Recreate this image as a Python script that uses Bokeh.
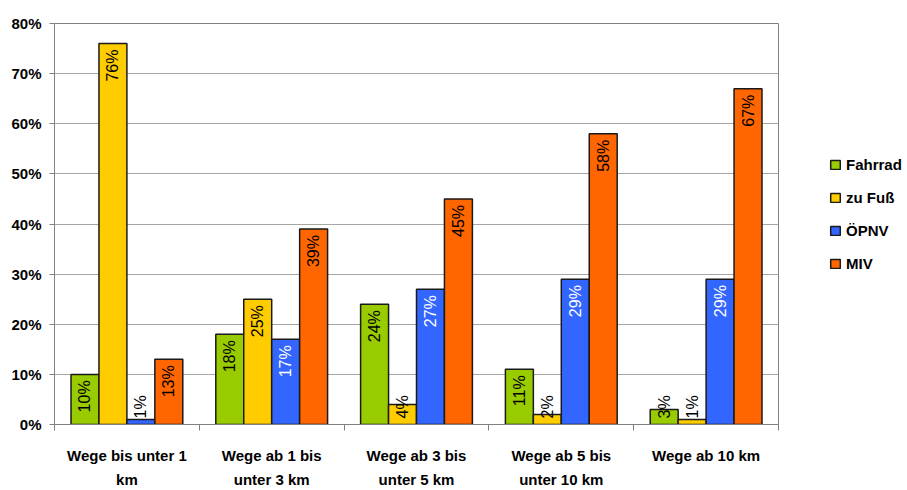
import numpy as np
from bokeh.plotting import figure
from bokeh.layouts import row
from bokeh.models import (ColumnDataSource, FixedTicker, PrintfTickFormatter, Range1d,
                          Legend, LegendItem, LinearAxis)
from bokeh.core.properties import value
from bokeh.embed import file_html
from bokeh.resources import INLINE

categories_line1 = ["Wege bis unter 1", "Wege ab 1 bis", "Wege ab 3 bis", "Wege ab 5 bis", "Wege ab 10 km"]
categories_line2 = ["km", "unter 3 km", "unter 5 km", "unter 10 km", ""]
series = ["Fahrrad", "zu Fuß", "ÖPNV", "MIV"]
fahrrad = [10, 18, 24, 11, 3]
zu_fuss = [76, 25, 4, 2, 1]
oepnv = [1, 17, 27, 29, 29]
miv = [13, 39, 45, 58, 67]
y_ticks = [0, 10, 20, 30, 40, 50, 60, 70, 80]

colors = ["#99CC00", "#FFCC00", "#3366FF", "#FF6600"]
label_colors = ["black", "black", "white", "black"]
values = [fahrrad, zu_fuss, oepnv, miv]

FONT = "Liberation Sans"
H = 490
W1, W2 = 790, 117

n = len(categories_line1)
p = figure(width=W1, height=H, output_backend="svg", toolbar_location=None,
           x_range=Range1d(0, n), y_range=Range1d(0, 80),
           min_border_left=54, min_border_right=12, min_border_top=23, min_border_bottom=0)
p.background_fill_color = "white"
p.border_fill_color = "white"
p.outline_line_color = "#808080"
p.outline_line_width = 1

centers = np.arange(n) + 0.5
bw = 0.193
offsets = [-1.5 * bw, -0.5 * bw, 0.5 * bw, 1.5 * bw]

in_x, in_y, in_t, in_c = [], [], [], []
out_x, out_t = [], []
for k, (name, vals) in enumerate(zip(series, values)):
    xs = centers + offsets[k]
    src = ColumnDataSource(dict(x=xs, top=vals))
    p.vbar(x="x", top="top", width=bw, source=src, fill_color=colors[k],
           line_color="#1a1a1a", line_width=1.5)
    for xx, v in zip(xs, vals):
        if v >= 8:
            in_x.append(xx); in_y.append(v); in_t.append(f"{v}%"); in_c.append(label_colors[k])
        else:
            out_x.append(xx); out_t.append(f"{v}%")

p.text(x="x", y="y", text="t", text_color="c",
       source=ColumnDataSource(dict(x=in_x, y=in_y, t=in_t, c=in_c)),
       angle=np.pi / 2, text_align="right", text_baseline="middle", y_offset=6,
       text_font=value(FONT), text_font_size="16px")
p.text(x="x", y=0, text="t", source=ColumnDataSource(dict(x=out_x, t=out_t)),
       angle=np.pi / 2, text_align="left", text_baseline="middle", y_offset=-6,
       text_color="black", text_font=value(FONT), text_font_size="16px")

# y axis
p.yaxis.ticker = FixedTicker(ticks=y_ticks)
p.yaxis.formatter = PrintfTickFormatter(format="%d%%")
p.yaxis.axis_line_color = "#808080"
p.yaxis.major_tick_line_color = "#808080"
p.yaxis.major_tick_out = 5
p.yaxis.major_tick_in = 0
p.yaxis.minor_tick_line_color = None
p.yaxis.major_label_text_font = FONT
p.yaxis.major_label_text_font_style = "bold"
p.yaxis.major_label_text_font_size = "15px"
p.yaxis.major_label_text_color = "black"
p.yaxis.major_label_standoff = 8


def style_x(ax):
    ax.major_label_text_font = FONT
    ax.major_label_text_font_style = "bold"
    ax.major_label_text_font_size = "15px"
    ax.major_label_text_color = "black"


# x axis (first label line + group separator ticks)
p.xaxis.ticker = FixedTicker(ticks=list(centers), minor_ticks=list(range(n + 1)))
p.xaxis.major_label_overrides = {float(c): lab for c, lab in zip(centers, categories_line1)}
p.xaxis.axis_line_color = "#808080"
p.xaxis.major_tick_line_color = None
p.xaxis.major_tick_out = 0
p.xaxis.major_tick_in = 0
p.xaxis.minor_tick_line_color = "#808080"
p.xaxis.minor_tick_out = 6
p.xaxis.minor_tick_in = 0
p.xaxis.major_label_standoff = 16
style_x(p.xaxis[0])

# second label line
ax2 = LinearAxis(ticker=FixedTicker(ticks=list(centers), minor_ticks=[]))
ax2.major_label_overrides = {float(c): lab for c, lab in zip(centers, categories_line2)}
ax2.axis_line_color = None
ax2.major_tick_line_color = None
ax2.minor_tick_line_color = None
ax2.major_tick_out = 0
ax2.major_tick_in = 0
ax2.major_label_standoff = 4
style_x(ax2)
p.add_layout(ax2, "below")

p.xgrid.grid_line_color = None
p.ygrid.ticker = FixedTicker(ticks=y_ticks)
p.ygrid.grid_line_color = "#a6a6a6"
p.ygrid.grid_line_width = 1

# legend panel
p2 = figure(width=W2, height=H, output_backend="svg", toolbar_location=None,
            x_axis_location=None, y_axis_location=None,
            x_range=Range1d(0, 1), y_range=Range1d(0, 1),
            min_border_left=0, min_border_right=0, min_border_top=23, min_border_bottom=0)
p2.outline_line_color = None
p2.xgrid.grid_line_color = None
p2.ygrid.grid_line_color = None
p2.background_fill_color = "white"
p2.border_fill_color = "white"
items = []
for k, name in enumerate(series):
    # tiny placeholder renderers, hidden beneath the opaque legend box
    r = p2.vbar(x=[0.6], bottom=[0.6], top=[0.6], width=0.001, fill_color=colors[k],
                line_color="#1a1a1a", line_width=1.5)
    items.append(LegendItem(label=name, renderers=[r]))
legend = Legend(items=items, location=(39, 152), orientation="vertical")
legend.padding = 0
legend.margin = 0
legend.border_line_color = None
legend.background_fill_color = "white"
legend.background_fill_alpha = 1
legend.glyph_width = 12
legend.glyph_height = 11
legend.label_height = 16
legend.label_standoff = 5
legend.spacing = 16
legend.label_text_font = FONT
legend.label_text_font_style = "bold"
legend.label_text_font_size = "15px"
legend.label_text_color = "black"
p2.add_layout(legend)

open("out.html", "w").write(file_html(row(p, p2), INLINE))
